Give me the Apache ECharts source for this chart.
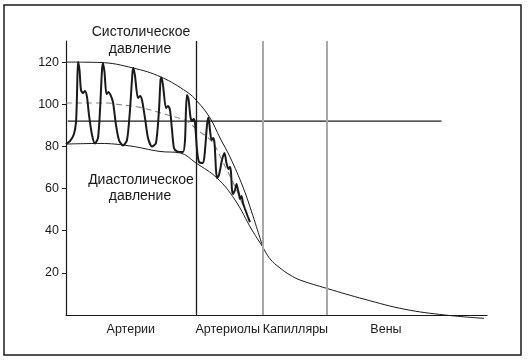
<!DOCTYPE html>
<html>
<head>
<meta charset="utf-8">
<script src="https://cdn.jsdelivr.net/npm/echarts@6/dist/echarts.min.js"></script>
<style>html,body{margin:0;padding:0;background:#fff}#c{width:530px;height:362px}</style>
</head>
<body>
<div id="c"></div>
<script>
// y-axis tick labels (mm Hg)
const yTicks = [20, 40, 60, 80, 100, 120];
// x-axis region labels and their centres (relative distance, 0..100)
const regions = ['Артерии', 'Артериолы', 'Капилляры', 'Вены'];
const regionCenters = [15.4, 38.4, 54.5, 76.0];
// region boundaries
const boundaryMain = [31.0];
const boundaryGray = [46.7, 62.0];
// reference horizontal level
const refLevel = 92;
const refLevelSpan = [0.4, 89.2];

// arterial pressure pulse wave
const pulseWave = [
  [0,81.1],[0.95,82.5],[1.9,85.9],[2.38,91.6],[2.61,104.4],[2.85,120.0],[3.21,116.2],[3.56,106.7],[4.04,105.3],[4.51,106.3],[4.99,103.4],[5.46,94.9],[6.18,85.4],[6.89,81.4],
  [7.6,84.0],[8.08,97.3],[8.55,116.2],[8.79,119.5],[9.14,115.3],[9.62,104.8],[10.1,105.8],[10.57,104.4],[11.16,101.0],[11.88,90.1],[12.59,83.0],[13.54,80.4],
  [14.49,83.0],[15.2,97.3],[15.8,115.3],[16.03,117.2],[16.39,113.4],[17.1,102.9],[17.58,103.9],[18.05,102.0],[18.76,93.5],[19.48,84.0],[20.43,79.9],
  [21.38,81.6],[22.09,97.3],[22.45,111.5],[22.68,112.7],[23.04,109.1],[23.75,98.2],[24.23,99.2],[24.7,97.3],[25.18,87.8],[25.65,79.2],[26.37,77.6],[27.79,77.3],
  [28.27,83.0],[28.5,97.3],[28.74,104.4],[29.1,102.5],[29.57,93.9],[29.93,92.0],[30.29,93.0],[30.64,91.1],[31.12,78.3],[31.59,72.6],[32.54,72.1],
  [33.02,78.3],[33.49,90.1],[33.85,93.7],[34.2,87.8],[34.56,83.0],[34.92,84.0],[35.27,81.6],[35.63,68.8],[35.87,65.0],
  [36.34,66.4],[37.05,73.5],[37.65,76.9],[38.12,72.1],[38.6,69.3],[38.95,70.2],[39.19,67.8],[39.43,59.3],[39.67,57.4],
  [40.14,59.3],[40.5,62.1],[40.86,59.3],[41.09,57.4],[41.33,55.0],[41.69,56.5],[42.04,53.1],[42.52,50.3],[43.23,46.5],[43.7,44.1]
];
// systolic envelope
const systolic = [
  [0,120.0],[8.08,119.8],[15.91,117.2],[22.57,112.9],[28.74,105.8],[31.12,101.5],[34.2,93.5],[36.58,84.0],[38.95,75.0],[42.04,60.7],[44.18,48.4],[46.72,32.4]
];
// diastolic envelope
const diastolic = [
  [0,81.1],[8.08,81.4],[15.2,80.2],[22.33,77.6],[27.08,76.9],[30.88,72.1],[35.87,65.0],[40.14,54.6],[44.18,40.3],[46.72,32.4]
];
// mean pressure (dashed)
const meanPressure = [
  [0,100.6],[9.74,100.6],[12.83,99.8],[17.58,98.5],[23.99,95.0],[28.74,91.9],[31.12,87.9],[34.68,82.2],[37.05,73.5],[40.14,60.9],[42.52,49.8]
];
// capillary / venous pressure
const venous = [
  [46.72,32.4],[48.46,26.6],[50.83,22.3],[53.21,19.0],[55.58,16.6],[61.99,12.6],[71.02,7.4],[80.52,2.7],[90.02,0],[99.29,-1.6]
];

const FONT = '"Liberation Sans", Arial, Helvetica, sans-serif';
const INK = '#1a1a1a';

const chart = echarts.init(document.getElementById('c'), null, {renderer: 'canvas'});

function thin(data, extra) {
  return Object.assign({
    type: 'line', data: data, symbol: 'none', clip: false, smooth: 0.4,
    lineStyle: {color: INK, width: 1}, silent: true, z: 3
  }, extra || {});
}

chart.setOption({
  animation: false,
  backgroundColor: '#fff',
  grid: {left: 66, right: 43, top: 41, bottom: 47},
  xAxis: {
    type: 'value', min: 0, max: 100,
    axisLine: {show: true, lineStyle: {color: INK, width: 1.2}},
    axisTick: {show: false},
    splitLine: {show: false},
    axisLabel: {
      customValues: regionCenters,
      margin: 8,
      color: INK, fontFamily: FONT, fontSize: 12.5,
      formatter: function (v) {
        let best = 0;
        for (let i = 1; i < regionCenters.length; i++) {
          if (Math.abs(regionCenters[i] - v) < Math.abs(regionCenters[best] - v)) best = i;
        }
        return regions[best];
      }
    }
  },
  yAxis: {
    type: 'value', min: 0, max: 130,
    axisLine: {show: true, lineStyle: {color: INK, width: 1.2}},
    axisTick: {show: true, customValues: yTicks, length: 4, lineStyle: {color: INK, width: 1}},
    splitLine: {show: false},
    axisLabel: {customValues: yTicks, margin: 7, color: INK, fontFamily: FONT, fontSize: 12.5}
  },
  graphic: [
    {type: 'rect', shape: {x: 4, y: 5, width: 517, height: 350},
     style: {fill: 'none', stroke: INK, lineWidth: 1.5}, silent: true},
    {type: 'text', x: 141, y: 32, style: {text: 'Систолическое', align: 'center', verticalAlign: 'middle', font: '14px ' + FONT, fill: INK}},
    {type: 'text', x: 140, y: 49, style: {text: 'давление', align: 'center', verticalAlign: 'middle', font: '14px ' + FONT, fill: INK}},
    {type: 'text', x: 141, y: 180, style: {text: 'Диастолическое', align: 'center', verticalAlign: 'middle', font: '14px ' + FONT, fill: INK}},
    {type: 'text', x: 140, y: 196.5, style: {text: 'давление', align: 'center', verticalAlign: 'middle', font: '14px ' + FONT, fill: INK}}
  ],
  series: [
    {
      type: 'line', data: [], symbol: 'none', silent: true,
      markLine: {
        silent: true, symbol: 'none', label: {show: false},
        data: boundaryMain.map(v => ({xAxis: v, lineStyle: {color: INK, width: 1.3, type: 'solid'}}))
          .concat(boundaryGray.map(v => ({xAxis: v, lineStyle: {color: '#a8a8a8', width: 2, type: 'solid'}})))
      }
    },
    thin([[refLevelSpan[0], refLevel], [refLevelSpan[1], refLevel]], {smooth: false, lineStyle: {color: INK, width: 1.3}}),
    thin(systolic),
    thin(diastolic),
    thin(venous),
    thin(meanPressure, {lineStyle: {color: '#858585', width: 1.1, type: [6, 4]}}),
    thin(pulseWave, {smooth: 0.25, lineStyle: {color: INK, width: 2}, z: 4})
  ]
});
</script>
</body>
</html>
